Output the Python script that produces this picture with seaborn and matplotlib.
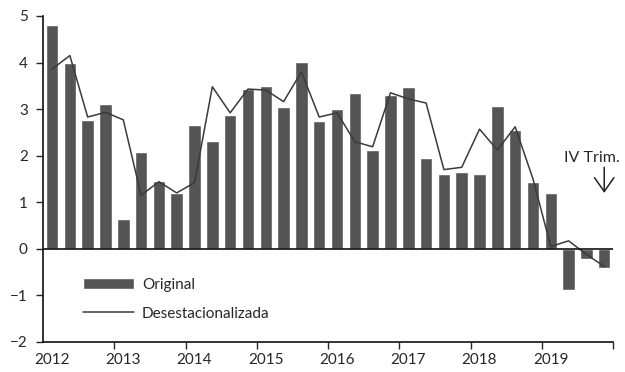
import matplotlib
matplotlib.use("Agg")
import matplotlib.pyplot as plt
import seaborn as sns
import pandas as pd
import numpy as np

# Quarterly data, 2012 Q1 .. 2019 Q4
years = [2012, 2013, 2014, 2015, 2016, 2017, 2018, 2019]
quarters = [f"{y}-T{q}" for y in years for q in range(1, 5)]

original = [4.81, 4.00, 2.77, 3.11,
            0.63, 2.08, 1.45, 1.20,
            2.66, 2.31, 2.87, 3.43,
            3.50, 3.04, 4.02, 2.75,
            3.00, 3.35, 2.12, 3.30,
            3.47, 1.95, 1.61, 1.65,
            1.61, 3.07, 2.55, 1.44,
            1.20, -0.88, -0.21, -0.41]

desestacionalizada = [3.86, 4.15, 2.83, 2.93,
                      2.77, 1.15, 1.44, 1.20,
                      1.42, 3.48, 2.92, 3.43,
                      3.41, 3.16, 3.80, 2.83,
                      2.92, 2.30, 2.19, 3.35,
                      3.22, 3.13, 1.70, 1.75,
                      2.57, 2.12, 2.62, 1.50,
                      0.05, 0.17, -0.12, -0.38]

df = pd.DataFrame({"trimestre": quarters, "pos": np.arange(len(quarters)),
                   "original": original, "desest": desestacionalizada})

sns.set_style("white")
plt.rcParams['font.family'] = ['Lato', 'DejaVu Sans']

fig = plt.figure(figsize=(6.25, 3.72), dpi=100)
ax = fig.add_axes([0.069, 0.081, 0.912, 0.876])

sns.barplot(data=df, x="trimestre", y="original", color="#555555",
            saturation=1, width=0.7, ax=ax, label="Original")
sns.lineplot(data=df, x="pos", y="desest", color="#3a3a3a", linewidth=1.1,
             ax=ax, label="Desestacionalizada")

ax.axhline(0, color="#111111", linewidth=1.2, zorder=3)

ax.set_xlim(-0.5, len(quarters) - 0.5)
ax.set_ylim(-2, 5)
ax.set_yticks(range(-2, 6))
ax.tick_params(axis="y", direction="out", length=5, width=1, labelsize=11,
               left=True, pad=6)

# year separators as major ticks, year labels at first quarter
ax.set_xticks(np.arange(3.5, len(quarters), 4))
ax.set_xticklabels([])
ax.set_xticks(np.arange(0, len(quarters), 4), minor=True)
ax.set_xticklabels([str(y) for y in years], minor=True)
ax.tick_params(axis="x", which="major", direction="out", length=5, width=1,
               bottom=True)
ax.tick_params(axis="x", which="minor", length=0, labelsize=11, pad=8)

ax.set_xlabel("")
ax.set_ylabel("")
sns.despine(ax=ax, top=True, right=True)
for s in ["left", "bottom"]:
    ax.spines[s].set_color("#111111")
    ax.spines[s].set_linewidth(1.2)

# legend: Original first, then the line
handles, labels = ax.get_legend_handles_labels()
order = [labels.index("Original"), labels.index("Desestacionalizada")]
ax.legend([handles[i] for i in order], [labels[i] for i in order],
          loc="upper left", bbox_to_anchor=(0.045, 0.238), frameon=False,
          fontsize=11, handlelength=3.4, handleheight=0.7, labelspacing=0.95,
          handletextpad=0.5)

ax.text(31.85, 1.8, "IV Trim.", ha="right", va="bottom", fontsize=11.5)
ax.annotate("", xy=(31, 1.2), xytext=(31, 1.75),
            arrowprops=dict(arrowstyle="->,head_length=1.0,head_width=0.7",
                            color="#222222", linewidth=1.1,
                            shrinkA=0, shrinkB=0))

fig.savefig("out.png", dpi=100)
